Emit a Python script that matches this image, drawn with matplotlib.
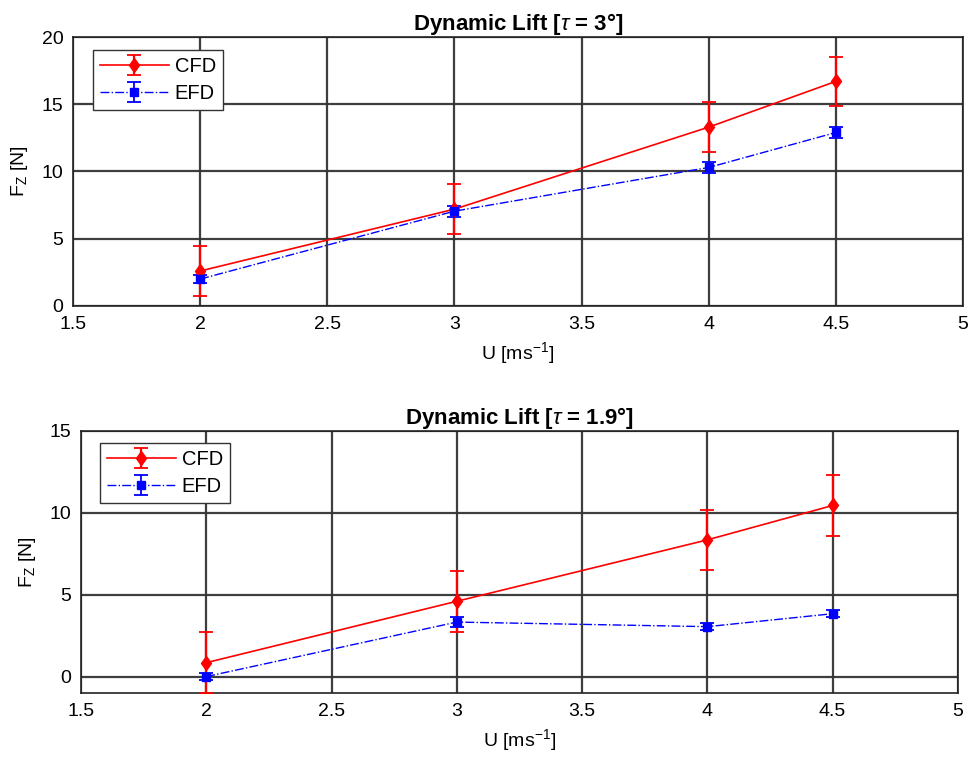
import matplotlib
matplotlib.use("Agg")
import matplotlib.pyplot as plt
import numpy as np

plt.rcParams['font.family'] = ['Liberation Sans', 'DejaVu Sans']
plt.rcParams['mathtext.fontset'] = 'custom'
plt.rcParams['mathtext.rm'] = 'Liberation Sans'
plt.rcParams['mathtext.it'] = 'Liberation Sans:italic'
plt.rcParams['mathtext.bf'] = 'Liberation Sans:bold'

# Data
U = [2, 3, 4, 4.5]

cfd_top = [2.6, 7.2, 13.3, 16.7]
cfd_top_err = [1.85, 1.85, 1.85, 1.85]
efd_top = [2.0, 7.05, 10.3, 12.9]
efd_top_err = [0.3, 0.4, 0.4, 0.4]

cfd_bot = [0.85, 4.6, 8.35, 10.45]
cfd_bot_err = [1.85, 1.85, 1.85, 1.85]
efd_bot = [0.0, 3.33, 3.05, 3.84]
efd_bot_err = [0.2, 0.3, 0.2, 0.2]

titles = [r'Dynamic Lift [$\tau$ = 3°]', r'Dynamic Lift [$\tau$ = 1.9°]']
xticks = [1.5, 2, 2.5, 3, 3.5, 4, 4.5, 5]
xticklabels = ['1.5', '2', '2.5', '3', '3.5', '4', '4.5', '5']
yticks_top = [0, 5, 10, 15, 20]
yticks_bot = [0, 5, 10, 15]

fig = plt.figure(figsize=(9.7, 7.6), dpi=100)
ax1 = fig.add_axes([0.0753, 0.5974, 0.9175, 0.3539])
ax2 = fig.add_axes([0.0835, 0.0882, 0.904, 0.3447])

FS = 14
diamond = [(0, 1), (0.72, 0), (0, -1), (-0.72, 0), (0, 1)]

def draw(ax, cfd, cfd_err, efd, efd_err, title, ylim, yticks, anchor):
    ax.errorbar(U, cfd, yerr=cfd_err, color='#FF0000', marker=diamond, markersize=10,
                lw=1.2, elinewidth=1.6, capsize=5, capthick=1.3, label='CFD', zorder=3)
    ax.errorbar(U, efd, yerr=efd_err, color='#0000FF', marker='s', markersize=6,
                lw=1.0, ls='-.', elinewidth=1.3, capsize=5, capthick=1.3, label='EFD',
                zorder=3)
    ax.set_xlim(1.5, 5)
    ax.set_ylim(*ylim)
    ax.set_xticks(xticks)
    ax.set_xticklabels(xticklabels)
    ax.set_yticks(yticks)
    ax.grid(True, color='#333333', lw=1.6, alpha=0.95)
    ax.set_axisbelow(True)
    ax.tick_params(labelsize=FS, direction='in', length=0, pad=7)
    for s in ax.spines.values():
        s.set_color('#222222')
        s.set_linewidth(1.2)
    ax.set_title(title, fontsize=16, fontweight='bold', pad=4)
    ax.set_xlabel(r'U [ms$^{-1}$]', fontsize=FS, labelpad=5)
    ax.set_ylabel(r'F$_{\rm Z}$ [N]', fontsize=FS, labelpad=8)
    leg = ax.legend(loc='upper left', bbox_to_anchor=anchor, fontsize=FS + 0.5,
                    fancybox=False, framealpha=1, edgecolor='#333333', borderaxespad=0,
                    handlelength=3.4, borderpad=0.35, labelspacing=0.4,
                    handletextpad=0.3)
    leg.get_frame().set_linewidth(1.0)

draw(ax1, cfd_top, cfd_top_err, efd_top, efd_top_err, titles[0], (0, 20), yticks_top,
     (20 / 890, 1 - 13 / 269))
draw(ax2, cfd_bot, cfd_bot_err, efd_bot, efd_bot_err, titles[1], (-1, 15), yticks_bot,
     (19 / 877, 1 - 12 / 262))

fig.savefig('out.png', dpi=100)
